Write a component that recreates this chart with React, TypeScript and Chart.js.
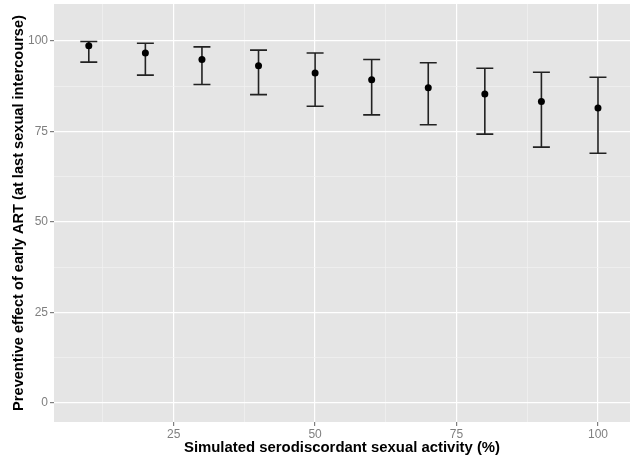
import React, { useEffect, useRef } from "react";
import { Chart, registerables } from "chart.js";

Chart.register(...registerables);

const activity = [10, 20, 30, 40, 50, 60, 70, 80, 90, 100];
const effect = [98.7, 96.7, 94.9, 93.2, 91.2, 89.3, 87.1, 85.4, 83.3, 81.5];
const lowerCI = [94.2, 90.6, 88.0, 85.2, 82.0, 79.6, 76.9, 74.3, 70.7, 69.0];
const upperCI = [99.9, 99.4, 98.4, 97.5, 96.7, 94.9, 94.0, 92.5, 91.4, 90.0];
const xTickValues = [12.5, 25, 37.5, 50, 62.5, 75, 87.5, 100];
const yTickValues = [0, 12.5, 25, 37.5, 50, 62.5, 75, 87.5, 100];
const capHalfWidth = 1.5;

const isMajor = (v: number) => v % 25 === 0;

const panelPlugin = {
  id: "panelBg",
  beforeDraw(chart: any) {
    const { ctx, chartArea } = chart;
    ctx.save();
    ctx.fillStyle = "#E5E5E5";
    ctx.fillRect(chartArea.left, chartArea.top, chartArea.right - chartArea.left, chartArea.bottom - chartArea.top);
    ctx.restore();
  },
};

const errorBarPlugin = {
  id: "errorBars",
  beforeDatasetsDraw(chart: any) {
    const { ctx } = chart;
    const xs = chart.scales.x;
    const ys = chart.scales.y;
    ctx.save();
    ctx.strokeStyle = "#222222";
    ctx.lineWidth = 1.6;
    activity.forEach((a, i) => {
      const x = xs.getPixelForValue(a);
      const xl = xs.getPixelForValue(a - capHalfWidth);
      const xr = xs.getPixelForValue(a + capHalfWidth);
      const yl = ys.getPixelForValue(lowerCI[i]);
      const yu = ys.getPixelForValue(upperCI[i]);
      ctx.beginPath();
      ctx.moveTo(x, yl);
      ctx.lineTo(x, yu);
      ctx.moveTo(xl, yl);
      ctx.lineTo(xr, yl);
      ctx.moveTo(xl, yu);
      ctx.lineTo(xr, yu);
      ctx.stroke();
    });
    ctx.restore();
  },
};

export default function App() {
  const ref = useRef<HTMLCanvasElement>(null);
  useEffect(() => {
    document.body.style.margin = "0";
    const chart = new Chart(ref.current!, {
      type: "scatter",
      data: {
        datasets: [
          {
            data: activity.map((a, i) => ({ x: a, y: effect[i] })),
            backgroundColor: "#000000",
            borderColor: "#000000",
            pointRadius: 3.5,
            borderWidth: 0,
          },
        ],
      },
      options: {
        responsive: false,
        animation: false,
        layout: { autoPadding: false, padding: { top: 4, left: 0, right: 0, bottom: 0 } },
        plugins: { legend: { display: false }, tooltip: { enabled: false } },
        scales: {
          x: {
            type: "linear",
            min: 3.85,
            max: 105.66,
            afterBuildTicks(scale: any) {
              scale.ticks = xTickValues.map((v) => ({ value: v }));
            },
            afterFit(scale: any) {
              scale.height = 38;
              scale.paddingLeft = 0;
              scale.paddingRight = 0;
            },
            border: { display: false },
            grid: {
              color: (c: any) => (isMajor(c.tick?.value) ? "#FFFFFF" : "#F2F2F2"),
              lineWidth: (c: any) => (isMajor(c.tick?.value) ? 1.2 : 0.7),
              tickColor: (c: any) => (isMajor(c.tick?.value) ? "#7F7F7F" : "rgba(0,0,0,0)"),
              tickLength: 4,
            },
            ticks: {
              autoSkip: false,
              maxRotation: 0,
              padding: 1,
              color: "#7F7F7F",
              font: { family: "Liberation Sans", size: 12 },
              callback: (v: any) => (isMajor(Number(v)) ? String(v) : ""),
            },
            title: {
              display: true,
              text: "Simulated serodiscordant sexual activity (%)",
              color: "#000000",
              font: { family: "Liberation Sans", size: 14.9, weight: "bold" },
              padding: { top: 0, bottom: 3 },
            },
          },
          y: {
            type: "linear",
            min: -5.25,
            max: 110.25,
            afterBuildTicks(scale: any) {
              scale.ticks = yTickValues.map((v) => ({ value: v }));
            },
            afterFit(scale: any) {
              scale.width = 54;
              scale.paddingTop = 0;
              scale.paddingBottom = 0;
            },
            border: { display: false },
            grid: {
              color: (c: any) => (isMajor(c.tick?.value) ? "#FFFFFF" : "#F2F2F2"),
              lineWidth: (c: any) => (isMajor(c.tick?.value) ? 1.2 : 0.7),
              tickColor: (c: any) => (isMajor(c.tick?.value) ? "#7F7F7F" : "rgba(0,0,0,0)"),
              tickLength: 4,
            },
            ticks: {
              autoSkip: false,
              padding: 2,
              color: "#7F7F7F",
              font: { family: "Liberation Sans", size: 12 },
              callback: (v: any) => (isMajor(Number(v)) ? String(v) : ""),
            },
            title: {
              display: true,
              text: "Preventive effect of early ART (at last sexual intercourse)",
              color: "#000000",
              font: { family: "Liberation Sans", size: 14.6, weight: "bold" },
              padding: { top: 10, bottom: 0 },
            },
          },
        },
      },
      plugins: [panelPlugin, errorBarPlugin],
    });
    return () => chart.destroy();
  }, []);
  return (
    <div style={{ width: 630, height: 460 }}>
      <canvas ref={ref} width={630} height={460} />
    </div>
  );
}
